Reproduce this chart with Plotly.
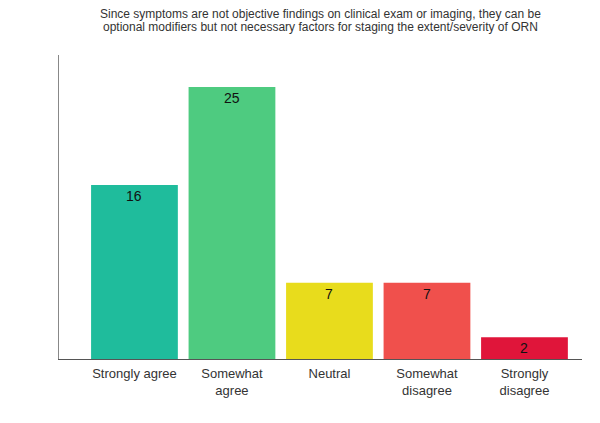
import plotly.graph_objects as go

categories = ["Strongly agree", "Somewhat<br>agree", "Neutral", "Somewhat<br>disagree", "Strongly<br>disagree"]
values = [16, 25, 7, 7, 2]
colors = ["#1fbc9c", "#4ecb80", "#e8dc1c", "#f0504c", "#e0153a"]
title_lines = ["Since symptoms are not objective findings on clinical exam or imaging, they can be",
               "optional modifiers but not necessary factors for staging the extent/severity of ORN"]

fig = go.Figure(go.Bar(
    x=list(range(len(categories))), y=values,
    marker=dict(color=colors, line=dict(width=0)),
    width=0.89,
))

anns = []
for i, line in enumerate(title_lines):
    anns.append(dict(text=line, xref="paper", yref="paper", x=0.5, y=1,
                     yshift=41 - 13 * i, xanchor="center", yanchor="middle", showarrow=False,
                     font=dict(size=12, color="#333")))
for i, v in enumerate(values):
    anns.append(dict(text=str(v), xref="x", yref="y", x=i, y=v, yshift=-11,
                     xanchor="center", yanchor="middle", showarrow=False,
                     font=dict(size=14, color="#111")))

fig.update_layout(
    width=592, height=415,
    margin=dict(l=51, r=18, t=47, b=64),
    paper_bgcolor="white", plot_bgcolor="white",
    showlegend=False,
    font=dict(family="Liberation Sans, Arial", color="#333"),
    annotations=anns,
    xaxis=dict(tickmode="array", tickvals=list(range(len(categories))), ticktext=categories,
               range=[-0.774, 4.59], showline=True, linecolor="#555", linewidth=1,
               showgrid=False, zeroline=False, ticks="", ticklabelstandoff=2,
               tickfont=dict(size=13, color="#333")),
    yaxis=dict(range=[0, 27.94], showline=True, linecolor="#888", linewidth=1,
               showgrid=False, zeroline=False, showticklabels=False, ticks=""),
)

fig.write_html("out.html")
